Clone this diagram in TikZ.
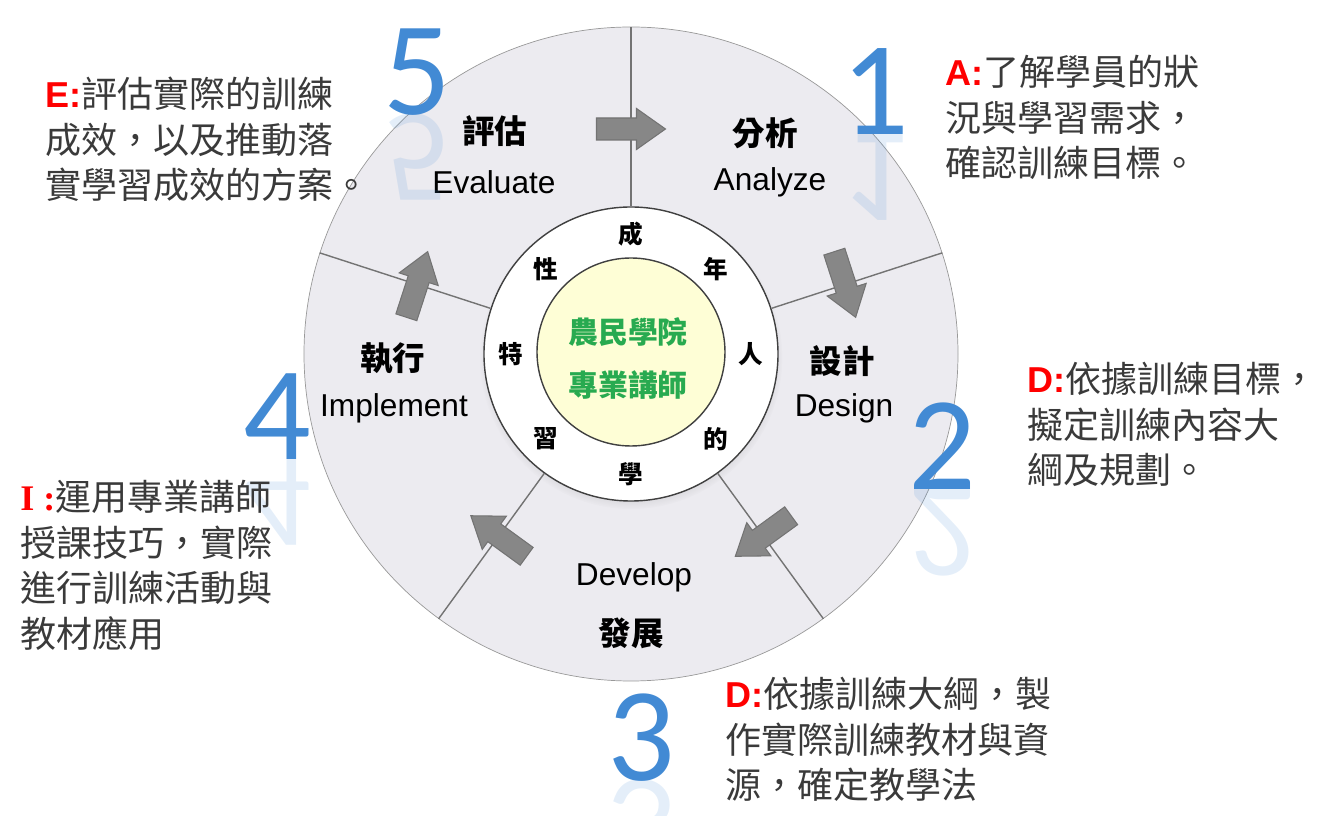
\documentclass[tikz,border=0pt]{standalone}
\usepackage{fontspec}
\setmainfont{Liberation Sans}
\newfontfamily\cjk{Noto Sans CJK TC}
\newfontfamily\serifl{Liberation Serif}
\newfontfamily\numfont{Carlito}
\usepackage{xcolor}
\usetikzlibrary{positioning,calc,shadows}
\definecolor{ringGray}{RGB}{236,235,240}
\definecolor{lineGray}{RGB}{115,115,115}
\definecolor{arrowGray}{RGB}{135,135,135}
\definecolor{numBlue}{RGB}{66,138,212}
\definecolor{coreYellow}{RGB}{254,254,214}
\definecolor{coreGreen}{RGB}{40,170,80}
\definecolor{bodyText}{RGB}{58,58,58}

\begin{document}
\begin{tikzpicture}[
                % Circles
                wheelnode/.style={circle, draw=black!40, fill=ringGray, minimum size=13.08cm, inner sep=0pt},
                hubnode/.style={circle, draw=black!75, line width=0.8pt, fill=white, minimum size=5.88cm, inner sep=0pt,
                    circular drop shadow={shadow xshift=0pt, shadow yshift=-2pt, opacity=0.35, shadow scale=1.03}},
                corenode/.style={circle, draw=black!75, line width=0.8pt, fill=coreYellow, minimum size=3.76cm, inner sep=0pt},
                % Texts
                stagecn/.style={font=\cjk\bfseries\fontsize{18.5}{22}\selectfont, inner sep=0pt},
                stageen/.style={font=\fontsize{18}{21}\selectfont, inner sep=0pt},
                ringchar/.style={font=\cjk\bfseries\fontsize{14}{16}\selectfont, inner sep=0pt},
                corelabel/.style={font=\cjk\bfseries\fontsize{17}{20}\selectfont, text=coreGreen, inner sep=0pt},
                bignum/.style={font=\numfont\fontsize{76}{80}\selectfont, text=numBlue, inner sep=0pt, anchor=base},
                bignumecho/.style={bignum, yscale=-1, transform shape, text opacity=0.14},
                note/.style={font=\cjk\fontsize{20.5}{25.9}\selectfont, text=bodyText, align=left, anchor=north west, inner sep=0pt},
                tag/.style={},
                % Lines and arrows
                divider/.style={draw=lineGray, line width=0.8pt},
                turnarrow/.pic={\draw[fill=arrowGray, draw=black!55, line width=0.6pt]
                    (-0.69,-0.22) -- (0.11,-0.22) -- (0.11,-0.41) -- (0.69,0) -- (0.11,0.41) -- (0.11,0.22) -- (-0.69,0.22) -- cycle;}
            ]
                \useasboundingbox (-12.62,-9.24) rectangle (13.74,7.08);

                % --- WHEEL ---
                \node[wheelnode] (wheel) at (0,0) {};
                \node[hubnode] (hub) at (0,0) {};
                \node[corenode] (core) at (0,0.04) {};

                % Dividers between stages
                \draw[divider] (hub.90) -- (wheel.90);
                \draw[divider] (hub.18) -- (wheel.18);
                \draw[divider] (hub.-54) -- (wheel.-54);
                \draw[divider] (hub.-126) -- (wheel.-126);
                \draw[divider] (hub.162) -- (wheel.162);

                % Arrows (clockwise)
                \pic[rotate=0] at (90:4.5) {turnarrow};
                \pic[rotate=-72] at (18:4.5) {turnarrow};
                \pic[rotate=-144] at (-54:4.5) {turnarrow};
                \pic[rotate=144] at (-126:4.5) {turnarrow};
                \pic[rotate=72] at (162:4.5) {turnarrow};

                % --- STAGES ---
                \node[stagecn] (evalcn) at (-2.72,4.46) {評估};
                \node[stageen] (evalen) at (-2.74,3.44) {Evaluate};
                \node[stagecn] (anacn) at (2.68,4.42) {分析};
                \node[stageen] (anaen) at (2.78,3.44) {Analyze};
                \node[stagecn] (descn) at (4.22,-0.14) {設計};
                \node[stageen] (desen) at (4.26,-1.08) {Design};
                \node[stagecn] (impcn) at (-4.76,-0.10) {執行};
                \node[stageen] (impen) at (-4.74,-1.08) {Implement};
                \node[stageen] (deven) at (0.06,-4.46) {Develop};
                \node[stagecn] (devcn) at (0,-5.58) {發展};

                % --- HUB RING ---
                \node[ringchar] (r1) at (90:2.4) {成};
                \node[ringchar] (r2) at (45:2.4) {年};
                \node[ringchar] (r3) at (0:2.4) {人};
                \node[ringchar] (r4) at (-45:2.4) {的};
                \node[ringchar] (r5) at (-90:2.4) {學};
                \node[ringchar] (r6) at (-135:2.4) {習};
                \node[ringchar] (r7) at (180:2.4) {特};
                \node[ringchar] (r8) at (135:2.4) {性};

                % Core
                \node[corelabel] (core1) at (-0.06,0.44) {農民學院};
                \node[corelabel] (core2) at (-0.06,-0.62) {專業講師};

                % --- NUMBERS ---
                \node[bignum] (num5) at (-4.28,4.78) {5};
                \node[bignumecho] (num5r) at (-4.28,4.78) {5};
                \node[bignum] (num1) at (4.88,4.38) {1};
                \node[bignumecho] (num1r) at (4.88,4.38) {1};
                \node[bignum] (num2) at (6.22,-2.72) {2};
                \node[bignumecho] (num2r) at (6.22,-2.72) {2};
                \node[bignum] (num3) at (0.2,-8.52) {3};
                \node[bignumecho] (num3r) at (0.2,-8.52) {3};
                \node[bignum] (num4) at (-7.08,-2.12) {4};
                \node[bignumecho] (num4r) at (-7.08,-2.12) {4};

                % --- NOTES ---
                \node[note] (noteE) at (-11.72,5.54) {{\rmfamily\bfseries\color{red}E:}評估實際的訓練\\成效，以及推動落\\實學習成效的方案。};
                \node[note] (noteA) at (6.28,5.98) {{\rmfamily\bfseries\color{red}A:}了解學員的狀\\況與學習需求，\\確認訓練目標。};
                \node[note] (noteD1) at (7.92,-0.16) {{\rmfamily\bfseries\color{red}D:}依據訓練目標，\\擬定訓練內容大\\綱及規劃。};
                \node[note] (noteI) at (-12.22,-2.52) {{\serifl\bfseries\color{red}I :}運用專業講師\\授課技巧，實際\\進行訓練活動與\\教材應用};
                \node[note] (noteD2) at (1.88,-6.46) {{\rmfamily\bfseries\color{red}D:}依據訓練大綱，製\\作實際訓練教材與資\\源，確定教學法};

            \end{tikzpicture}
\end{document}
